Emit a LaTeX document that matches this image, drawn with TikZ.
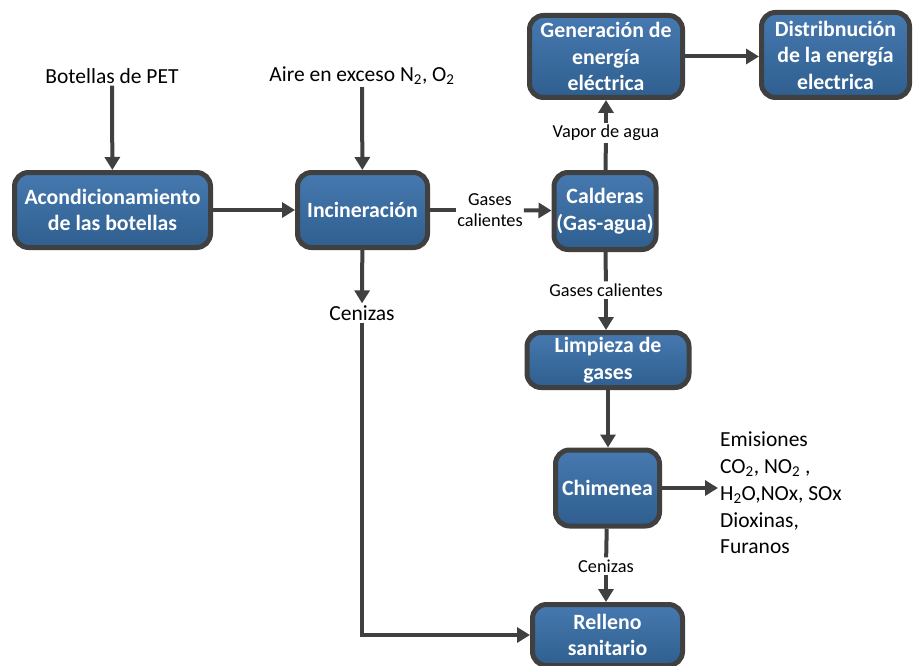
\documentclass[tikz,border=0pt]{standalone}
\usepackage{fontspec}
\setmainfont{Carlito}
\usetikzlibrary{arrows.meta}
\definecolor{edgegray}{HTML}{404040}
\definecolor{boxtop}{HTML}{4679B0}
\definecolor{boxbot}{HTML}{2F5F8F}
\tikzset{
  procbox/.style={draw=edgegray, line width=5pt, rounded corners=14pt,
    top color=boxtop, bottom color=boxbot, text=white, align=center,
    inner sep=0pt, font=\bfseries\fontsize{21.8}{26.5}\selectfont},
  biglabel/.style={inner sep=2pt, align=center, font=\fontsize{21.5}{26.7}\selectfont},
  smalllabel/.style={inner sep=2pt, align=center, font=\fontsize{18.3}{21}\selectfont},
  conn/.style={draw=edgegray, line width=4pt},
  arr/.style={conn, -{Triangle[length=13pt,width=15pt]}},
}
\begin{document}
\begin{tikzpicture}[x=1pt,y=-1pt]
\useasboundingbox (0,0) rectangle (915,666);
% boxes
\node[procbox, minimum width=196pt, minimum height=75pt] (A) at (112.5,210) {Acondicionamiento\\de las botellas};
\node[procbox, minimum width=130pt, minimum height=75pt] (I) at (362.5,210) {Incineración};
\node[procbox, minimum width=102pt, minimum height=77pt] (C) at (605,211) {Calderas\\(Gas-agua)};
\node[procbox, minimum width=153pt, minimum height=82pt] (G) at (606,56.5) {Generación de\\energía\\eléctrica};
\node[procbox, minimum width=148pt, minimum height=85pt] (D) at (835.5,55) {Distribnución\\de la energía\\electrica};
\node[procbox, minimum width=162pt, minimum height=55pt] (L) at (608,360) {Limpieza de\\gases};
\node[procbox, minimum width=104pt, minimum height=76pt] (Ch) at (607.5,488) {Chimenea};
\node[procbox, minimum width=150pt, minimum height=61pt] (R) at (607.5,635) {Relleno\\sanitario};
% labels
\node[biglabel] (bp) at (112,76) {Botellas de PET};
\node[biglabel] (air) at (362,76) {Aire en exceso N\textsubscript{2}, O\textsubscript{2}};
\node[smalllabel, inner sep=1pt] (gc1) at (490,210) {Gases\\calientes};
\node[smalllabel] (va) at (606,133) {Vapor de agua};
\node[smalllabel] (gc2) at (606,290) {Gases calientes};
\node[biglabel] (cen1) at (362,313) {Cenizas};
\node[smalllabel] (cen2) at (606,566) {Cenizas};
\node[biglabel, align=left, anchor=west] (em) at (718,493) {Emisiones\\CO\textsubscript{2}, NO\textsubscript{2} ,\\H\textsubscript{2}O,NOx, SOx\\Dioxinas,\\Furanos};
% connectors
\draw[arr] (bp) -- (A);
\draw[arr] (air) -- (I);
\draw[arr] (A) -- (I);
\draw[conn] (I) -- (gc1);
\draw[arr] (gc1) -- (C);
\draw[conn] (C) -- (va);
\draw[arr] (va) -- (G);
\draw[arr] (G) -- (G -| D.west);
\draw[conn] (C) -- (gc2);
\draw[arr] (gc2) -- (gc2 |- L.north);
\draw[arr] (L) -- (L |- Ch.north);
\draw[arr] (Ch) -- (Ch -| em.west);
\draw[conn] (Ch) -- (cen2);
\draw[arr] (cen2) -- (cen2 |- R.north);
\draw[arr] (I) -- (cen1);
\draw[arr] (cen1) |- (R.west);
\end{tikzpicture}
\end{document}
